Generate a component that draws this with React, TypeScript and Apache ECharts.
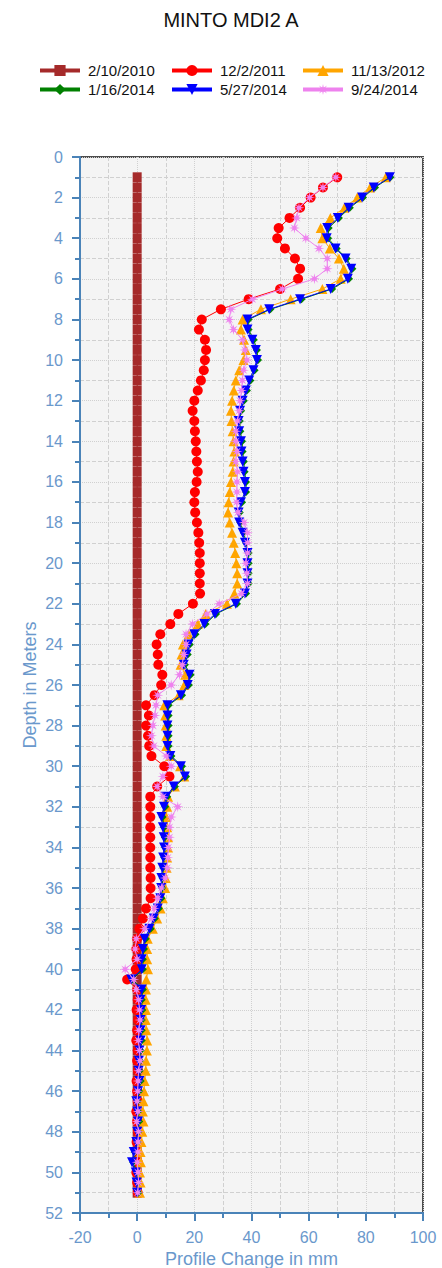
import { useEffect, useRef } from "react";
import * as echarts from "echarts";

// ---------------- DATA ----------------
const depths = [
  1, 1.5, 2, 2.5, 3, 3.5, 4, 4.5, 5, 5.5,
  6, 6.5, 7, 7.5, 8, 8.5, 9, 9.5, 10, 10.5,
  11, 11.5, 12, 12.5, 13, 13.5, 14, 14.5, 15, 15.5,
  16, 16.5, 17, 17.5, 18, 18.5, 19, 19.5, 20, 20.5,
  21, 21.5, 22, 22.5, 23, 23.5, 24, 24.5, 25, 25.5,
  26, 26.5, 27, 27.5, 28, 28.5, 29, 29.5, 30, 30.5,
  31, 31.5, 32, 32.5, 33, 33.5, 34, 34.5, 35, 35.5,
  36, 36.5, 37, 37.5, 38, 38.5, 39, 39.5, 40, 40.5,
  41, 41.5, 42, 42.5, 43, 43.5, 44, 44.5, 45, 45.5,
  46, 46.5, 47, 47.5, 48, 48.5, 49, 49.5, 50, 50.5,
  51,
];

const s20100210 = [
  0, 0, 0, 0, 0, 0, 0, 0, 0, 0,
  0, 0, 0, 0, 0, 0, 0, 0, 0, 0,
  0, 0, 0, 0, 0, 0, 0, 0, 0, 0,
  0, 0, 0, 0, 0, 0, 0, 0, 0, 0,
  0, 0, 0, 0, 0, 0, 0, 0, 0, 0,
  0, 0, 0, 0, 0, 0, 0, 0, 0, 0,
  0, 0, 0, 0, 0, 0, 0, 0, 0, 0,
  0, 0, 0, 0, 0, 0, 0, 0, 0, 0,
  0, 0, 0, 0, 0, 0, 0, 0, 0, 0,
  0, 0, 0, 0, 0, 0, 0, 0, 0, 0,
  0,
];

const s20111202 = [
  70.0, 65.0, 60.7, 57.0, 53.3, 49.5, 49.0, 51.7, 55.2, 57.0,
  56.3, 50.0, 39.0, 29.3, 22.6, 21.6, 23.7, 24.1, 23.7, 23.3,
  22.3, 21.2, 20.0, 19.4, 20.0, 20.2, 20.5, 20.7, 20.9, 21.2,
  20.8, 20.2, 20.0, 20.3, 20.9, 21.4, 21.7, 21.9, 21.9, 21.9,
  21.9, 22.0, 19.5, 14.4, 11.6, 8.1, 6.8, 7.2, 7.4, 8.8,
  8.4, 6.1, 3.1, 4.1, 3.1, 3.8, 4.2, 5.0, 9.5, 11.3,
  7.0, 4.6, 4.6, 4.6, 4.6, 4.6, 4.6, 4.6, 4.6, 4.7,
  4.7, 4.7, 3.1, 2.0, 0.8, 0.0, -0.3, -0.2, -0.5, -3.5,
  0.0, 0.2, -0.2, 0.3, 0.0, -0.3, 0.2, 0.0, 0.3, -0.2,
  0.0, 0.2, -0.3, 0.0, 0.3, -0.2, 0.0, 0.2, -0.3, 0.0,
  0.2,
];

const s20121113 = [
  87.0, 81.5, 77.0, 72.5, 67.6, 64.2, 64.8, 67.4, 70.6, 72.3,
  71.2, 64.8, 53.7, 43.3, 36.9, 36.3, 37.4, 38.0, 37.2, 35.7,
  34.5, 33.8, 33.2, 32.8, 33.0, 33.4, 33.7, 34.0, 33.7, 33.4,
  32.8, 32.4, 32.0, 31.8, 32.4, 33.2, 33.8, 34.3, 34.7, 35.0,
  35.0, 34.0, 31.4, 24.0, 21.2, 18.0, 16.0, 15.5, 15.2, 16.8,
  16.5, 14.5, 9.5, 9.8, 10.0, 10.2, 10.2, 11.5, 15.0, 16.5,
  13.2, 10.8, 10.5, 10.2, 10.5, 10.8, 10.8, 10.5, 10.3, 10.0,
  9.8, 9.0, 8.2, 7.0, 5.5, 3.7, 3.5, 3.5, 3.8, 3.2,
  3.1, 3.0, 3.1, 3.0, 3.2, 3.5, 3.4, 3.1, 3.0, 2.6,
  2.4, 2.2, 2.0, 2.2, 1.8, 1.5, 1.2, 1.3, 1.0, 1.2,
  1.0,
];

const s20140116 = [
  88.6, 83.2, 79.0, 74.4, 70.6, 67.0, 66.8, 69.8, 73.3, 75.3,
  74.1, 68.2, 57.5, 46.6, 39.0, 39.0, 40.8, 41.9, 42.3, 41.1,
  39.6, 38.4, 37.3, 36.4, 35.9, 36.1, 36.7, 36.9, 37.3, 37.6,
  38.1, 38.1, 36.7, 35.9, 36.1, 37.3, 38.1, 39.0, 39.0, 39.0,
  39.0, 38.1, 34.9, 27.6, 23.9, 20.4, 18.4, 17.7, 16.7, 18.7,
  18.1, 15.7, 11.0, 11.0, 11.0, 11.0, 11.0, 12.0, 15.7, 17.1,
  13.2, 10.5, 9.8, 8.9, 9.4, 9.7, 9.8, 9.5, 9.2, 8.9,
  8.8, 8.5, 7.6, 6.2, 4.7, 3.0, 2.4, 2.0, 2.0, -1.6,
  2.0, 1.6, 1.8, 1.6, 1.6, 1.6, 1.2, 1.0, 0.9, 1.2,
  0.7, 0.1, 0.4, 0.7, 0.4, 0.1, -0.8, -1.4, -0.1, 0.2,
  0.4,
];

const s20140527 = [
  88.4, 82.8, 78.7, 74.0, 70.2, 66.5, 66.3, 69.4, 72.9, 74.9,
  73.7, 67.7, 57.0, 46.2, 38.6, 38.6, 40.3, 41.5, 41.9, 40.7,
  39.2, 38.0, 36.9, 36.0, 35.5, 35.7, 36.3, 36.5, 36.9, 37.2,
  37.7, 37.7, 36.3, 35.5, 35.7, 36.9, 37.7, 38.6, 38.6, 38.6,
  38.6, 37.7, 34.5, 27.2, 23.5, 20.0, 18.0, 17.3, 16.3, 18.3,
  17.7, 15.3, 10.6, 10.6, 10.6, 10.6, 10.6, 11.6, 15.3, 16.7,
  12.8, 10.1, 9.4, 8.5, 9.0, 9.3, 9.4, 9.1, 8.8, 8.5,
  8.4, 8.1, 7.2, 5.8, 4.3, 2.6, 2.0, 1.6, 1.6, -2.1,
  1.6, 1.2, 1.4, 1.2, 1.2, 1.2, 0.8, 0.6, 0.5, 0.8,
  0.3, -0.3, 0.0, 0.3, 0.0, -0.3, -1.2, -1.8, -0.5, -0.2,
  0.0,
];

const s20140924 = [
  69.5, 65.0, 60.3, 56.6, 55.8, 55.0, 59.0, 63.6, 66.5, 66.5,
  62.0, 50.8, 40.3, 32.8, 32.2, 33.7, 36.9, 37.7, 38.4, 37.2,
  36.8, 36.5, 36.0, 35.7, 35.1, 34.5, 34.5, 34.9, 34.5, 35.1,
  34.9, 34.9, 34.8, 35.3, 37.4, 38.6, 38.6, 38.6, 38.0, 38.4,
  38.6, 36.5, 28.7, 24.4, 19.4, 17.1, 17.1, 16.3, 15.8, 14.8,
  11.9, 7.2, 6.6, 6.2, 5.5, 5.0, 5.8, 10.2, 11.9, 9.0,
  7.0, 9.0, 14.2, 11.9, 11.3, 11.3, 10.9, 10.7, 10.5, 9.8,
  8.5, 7.2, 6.0, 4.9, 2.6, -0.3, -0.7, 0.0, -4.2, -1.2,
  -0.3, 0.5, 0.8, 1.0, 0.6, 0.4, 0.8, 1.0, 0.5, 0.3,
  0.2, 0.0, 0.3, -0.2, 0.5, 0.3, 0.2, 0.0, 0.3, 0.5,
  0.2,
];

const seriesNames = ["2/10/2010", "12/2/2011", "11/13/2012", "1/16/2014", "5/27/2014", "9/24/2014"];
const seriesValues = [s20100210, s20111202, s20121113, s20140116, s20140527, s20140924];

const xMin = -20;
const xMax = 100;
const xStep = 20;
const yMin = 0;
const yMax = 52;
const yStep = 2;

const chartTitle = "MINTO MDI2 A";
const xAxisTitle = "Profile Change in mm";
const yAxisTitle = "Depth in Meters";

// ---------------- STYLE ----------------
const FONT = "'Liberation Sans', Arial, Helvetica, sans-serif";
const AXIS_COLOR = "#4a83b8";
const LABEL_COLOR = "#6a98cc";
const GRID_COLOR = "#d0d0d0";

const STAR =
  "path://M0,-10 L1.34,-3.23 L7.07,-7.07 L3.23,-1.34 L10,0 L3.23,1.34 L7.07,7.07 L1.34,3.23 L0,10 L-1.34,3.23 L-7.07,7.07 L-3.23,1.34 L-10,0 L-3.23,-1.34 L-7.07,-7.07 L-1.34,-3.23 Z";

const seriesStyles = [
  { color: "#a52a2a", symbol: "rect", size: [9, 10] as any, rotate: 0 },
  { color: "#ff0000", symbol: "circle", size: 10 as any, rotate: 0 },
  { color: "#ffa500", symbol: "triangle", size: 10 as any, rotate: 0 },
  { color: "#008000", symbol: "diamond", size: 8 as any, rotate: 0 },
  { color: "#0000ff", symbol: "triangle", size: 10 as any, rotate: 180 },
  { color: "#ee82ee", symbol: STAR, size: 11 as any, rotate: 0 },
];

const legendPos = [
  { left: 38, top: 63 },
  { left: 170, top: 63 },
  { left: 301, top: 63 },
  { left: 38, top: 82 },
  { left: 170, top: 82 },
  { left: 301, top: 82 },
];

export default function App() {
  const ref = useRef<HTMLDivElement>(null);

  useEffect(() => {
    if (!ref.current) return;
    const chart = echarts.init(ref.current, undefined, { renderer: "svg" });

    const axisCommon = {
      axisLine: { show: true, onZero: false, lineStyle: { color: AXIS_COLOR, width: 2 } },
      axisTick: { show: true, length: 8, lineStyle: { color: AXIS_COLOR, width: 2 } },
      minorTick: { show: true, splitNumber: 2, length: 5, lineStyle: { color: AXIS_COLOR, width: 2 } },
      splitLine: { show: true, lineStyle: { color: GRID_COLOR, type: "dotted", width: 1 } },
      minorSplitLine: { show: true, lineStyle: { color: GRID_COLOR, type: "dashed", width: 1 } },
      nameTextStyle: { fontSize: 18, color: LABEL_COLOR, fontFamily: FONT },
      nameMoveOverlap: false,
    };

    chart.setOption({
      animation: false,
      backgroundColor: "#ffffff",
      textStyle: { fontFamily: FONT },
      graphic: [
        {
          type: "text",
          x: 231,
          y: 20,
          style: {
            text: chartTitle,
            font: `20px ${FONT}`,
            fill: "#111111",
            textAlign: "center",
            textVerticalAlign: "middle",
          },
        },
      ],
      legend: seriesNames.map((n, i) => ({
        data: [n],
        left: legendPos[i].left,
        top: legendPos[i].top,
        padding: 0,
        itemWidth: 40,
        itemHeight: 14,
        itemGap: 0,
        selectedMode: false,
        lineStyle: { width: 4 },
        textStyle: { fontSize: 15, color: "#111111", fontFamily: FONT, padding: [0, 0, 0, 3] },
      })),
      grid: {
        left: 80,
        right: 19,
        top: 157,
        bottom: 55,
        containLabel: false,
        outerBoundsMode: "none",
        show: true,
        backgroundColor: "#f4f4f4",
        borderColor: "#4d4d4d",
        borderWidth: 2,
      },
      xAxis: {
        type: "value",
        min: xMin,
        max: xMax,
        interval: xStep,
        position: "bottom",
        name: xAxisTitle,
        nameLocation: "middle",
        nameGap: 37,
        axisLabel: { fontSize: 16, color: LABEL_COLOR, margin: 16, fontFamily: FONT },
        ...axisCommon,
      },
      yAxis: {
        type: "value",
        inverse: true,
        min: yMin,
        max: yMax,
        interval: yStep,
        position: "left",
        name: yAxisTitle,
        nameLocation: "middle",
        nameGap: 41,
        nameRotate: 90,
        axisLabel: { fontSize: 16, color: LABEL_COLOR, margin: 17, fontFamily: FONT },
        ...axisCommon,
      },
      series: seriesNames.map((n, i) => ({
        name: n,
        type: "line",
        data: depths.map((d, k) => [seriesValues[i][k], d]),
        symbol: seriesStyles[i].symbol,
        symbolSize: seriesStyles[i].size,
        symbolRotate: seriesStyles[i].rotate,
        showSymbol: true,
        lineStyle: { width: 1, color: seriesStyles[i].color },
        itemStyle: { color: seriesStyles[i].color },
        z: 2 + i,
      })),
    });

    return () => chart.dispose();
  }, []);

  return (
    <div
      ref={ref}
      style={{ position: "absolute", left: 0, top: 0, width: 442, height: 1268 }}
    />
  );
}
